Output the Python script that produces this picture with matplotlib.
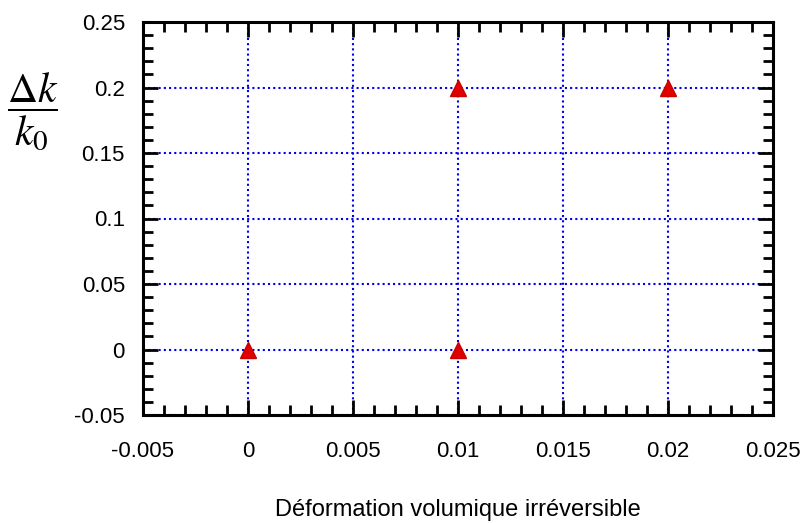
import matplotlib
matplotlib.use('Agg')
import matplotlib.pyplot as plt
from matplotlib.ticker import MultipleLocator

plt.rcParams['font.family'] = ['Liberation Sans', 'DejaVu Sans']
plt.rcParams['mathtext.fontset'] = 'stix'

# data points (irreversible volumetric strain, dk/k0)
strain = [0.0, 0.01, 0.01, 0.02]
dk_k0 = [0.0, 0.0, 0.2, 0.2]

xticks = [-0.005, 0, 0.005, 0.01, 0.015, 0.02, 0.025]
xticklabels = ['-0.005', '0', '0.005', '0.01', '0.015', '0.02', '0.025']
yticks = [-0.05, 0, 0.05, 0.1, 0.15, 0.2, 0.25]
yticklabels = ['-0.05', '0', '0.05', '0.1', '0.15', '0.2', '0.25']

fig = plt.figure(figsize=(8.02, 5.23), dpi=100)
ax = fig.add_axes([143 / 802, 108 / 523, 630 / 802, 393 / 523])

ax.plot(strain, dk_k0, linestyle='none', marker='^', markersize=11,
        markerfacecolor='#e00000', markeredgecolor='#c80000', zorder=5)

ax.set_xlim(-0.005, 0.025)
ax.set_ylim(-0.05, 0.25)
ax.xaxis.set_minor_locator(MultipleLocator(0.001))
ax.yaxis.set_minor_locator(MultipleLocator(0.01))
ax.set_xticks(xticks)
ax.set_xticklabels(xticklabels)
ax.set_yticks(yticks)
ax.set_yticklabels(yticklabels)

ax.grid(True, which='major', color='#0000ee', linestyle=(0, (1, 1.5)),
        linewidth=1.5)
ax.tick_params(which='both', direction='in', top=True, right=True, width=2.0,
               labelsize=16, colors='black')
ax.tick_params(which='major', length=11)
ax.tick_params(which='minor', length=7)
ax.tick_params(axis='x', which='major', pad=19)
ax.tick_params(axis='y', which='major', pad=13)
for s in ax.spines.values():
    s.set_linewidth(2.2)

fig.text(458 / 802, 1 - 516 / 523, 'Déformation volumique irréversible',
         fontsize=17, ha='center', va='baseline')
fig.text(33 / 802, 1 - 112 / 523, r'$\dfrac{\Delta k}{k_0}$', fontsize=30,
         ha='center', va='center')

fig.savefig('out.png', dpi=100)
